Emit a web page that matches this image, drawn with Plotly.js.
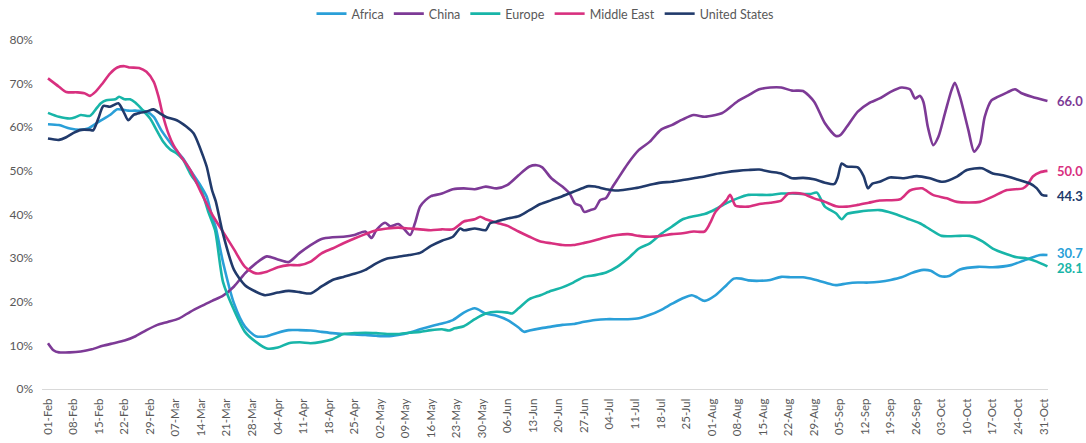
<!DOCTYPE html>
<html>
<head>
<meta charset="utf-8">
<script src="https://cdn.plot.ly/plotly-3.0.1.min.js"></script>
<style>
html,body{margin:0;padding:0;background:#ffffff;}
#chart{width:1086px;height:443px;}
</style>
</head>
<body>
<div id="chart"></div>
<script>
// x values: days since 01-Feb-2020
const seriesNames = ['Africa', 'China', 'Europe', 'Middle East', 'United States'];
const seriesColors = ['#2a9fd8', '#7d3a96', '#18b5a8', '#d8307f', '#213a6b'];
const endLabels = ['30.7', '66.0', '28.1', '50.0', '44.3'];

const africaDays = [0,3,6,9,11,14,17,19,22,24,27,29,31,33,35,37,39,42,43.5,45,46,48,51,54,57,60,63,66,69,72,75,78,81,84,87,90,93,96,99,102,105,108,111,114,117,120,123,126,129,130.5,132,135,138,141,144,147,150,153,156,159,162,165,168,171,174,176.5,178,180,183,186,188,190,192,195,198,201,204,207,210,213,216,219,222,225,228,231,234,236.5,240,242,244.5,247,250,255,259,264,268,272,274];
const africaValues = [60.7,60.5,59.7,59.4,59.7,61.3,62.8,64.1,63.8,63.8,63.6,62.4,59.4,57.0,54.8,52.9,50.2,46.4,44.1,39.5,37.0,29.0,19.6,14.3,12.1,12.1,12.9,13.5,13.5,13.4,13.1,12.8,12.6,12.5,12.4,12.2,12.1,12.4,12.9,13.7,14.4,15.0,15.8,17.5,18.5,17.3,16.8,15.8,14.1,13.1,13.4,13.9,14.3,14.7,14.9,15.4,15.8,16.0,16.0,16.0,16.2,17.0,18.1,19.5,20.8,21.5,21.0,20.2,21.5,23.8,25.3,25.3,24.9,24.8,25.0,25.7,25.6,25.6,25.1,24.4,23.8,24.2,24.4,24.4,24.6,25.0,25.6,26.5,27.3,27.1,25.9,25.9,27.4,28.0,27.9,28.4,29.6,30.7,30.7];

const chinaDays = [0,1.5,3,6,9,12,15,18,21,24,27,30,33,36,39,42,45,48,51,54,57,60,63,66,69,72,75,78,81,84,87,88.7,90,92.4,93.8,96,97.5,99.3,100.6,102,103.5,105,108,111,114,117,120,123,126,129,132,134,135.5,138,141,143,144.5,146,147,148.6,150,151.4,153,154.6,156,159,162,165,168,171,174,177,180,183,184.7,186,189,192,195,198,201,204,207,210,213,216,217.2,219,222,225,228,231,234,236.3,237.7,239,240,241.2,242.7,244.1,245.9,247.7,248.6,250,252.3,253.9,255.5,256.8,258.7,260.5,263,265.1,266.9,269.7,274];
const chinaValues = [10.5,8.9,8.4,8.4,8.6,9.1,9.9,10.5,11.1,12.1,13.5,14.7,15.4,16.2,17.7,19.0,20.2,21.4,23.5,26.5,28.8,30.4,29.7,29.1,31.2,33.0,34.4,34.8,34.9,35.3,36.1,34.6,36.4,38.1,37.3,37.8,36.8,35.3,38.0,41.8,43.3,44.2,44.8,45.8,46.0,45.8,46.4,46.0,46.8,49.0,51.0,51.3,50.8,48.3,46.4,44.8,42.5,42.0,40.6,41.0,41.4,43.3,43.8,46.1,47.9,51.7,54.8,56.7,59.4,60.5,61.8,62.8,62.4,62.8,63.2,63.9,65.9,67.3,68.7,69.1,69.1,68.4,68.3,65.9,60.9,58.0,58.2,60.1,63.6,65.5,66.6,68.1,69.1,68.7,66.6,67.2,65.8,60.1,55.9,57.8,63.2,68.5,70.2,67.0,59.4,54.4,56.3,62.4,66.2,67.0,68.0,68.7,67.8,67.0,66.0];

const europeDays = [0,3,6,7.5,9,11.5,13,14.5,16,18.5,19.5,21,22.5,24,26,28,30,31.6,33.5,35.3,37,39,42,44,45.8,48,51,54,57,60,63,66,69,72,75,78,81,84,87,90,93,96,99,102,105,108,110,111.5,114,117,120,123,126,127.2,129,132,135,138,141,144,147,150,153,156,159,162,165,168,171,174,177,180,183,186,189,192,195,198,201,204,207,209,210.8,213,216,217.6,219,222,225,228,231.6,235.5,239,241.8,245,250,252.7,256.3,259,262.9,265.6,268.4,271.1,274];
const europeValues = [63.3,62.4,62.0,62.3,62.8,62.6,64.0,65.5,66.2,66.4,67.0,66.4,66.4,65.6,63.9,62.0,59.0,56.7,54.9,54.0,52.6,49.4,45.6,40.5,36.4,24.5,18.1,13.1,10.8,9.3,9.5,10.5,10.7,10.5,10.8,11.4,12.6,12.8,12.9,12.8,12.6,12.6,12.9,13.1,13.5,13.7,13.4,13.9,14.4,16.0,17.3,17.7,17.5,17.3,18.5,20.6,21.5,22.5,23.3,24.4,25.7,26.1,26.7,28.0,29.9,32.2,33.4,35.5,37.2,38.9,39.6,40.1,41.2,42.6,43.7,44.5,44.5,44.5,44.8,44.8,44.7,44.7,45.0,41.8,40.3,38.9,40.1,40.6,40.9,41.0,40.3,39.1,38.0,36.6,35.1,35.1,35.1,33.8,32.2,30.9,30.2,29.9,29.2,28.1];

const middleEastDays = [0,3,5,8,10,11.5,13,15,17,19,21,22.5,25,27,29,30.3,31.6,33,34.4,36.2,39,42,45,48,51,54,57,60,63,66,69,72,75,78,81,84,87,90,93,96,99,102,105,108,111,114,117,118.5,120,123,126,129,132,135,138,141,144,147,150,153,156,159,162,165,168,171,174,177,180,181.5,183,186,187,188.5,190,192,195,198,201,203,207,210,213,216,219,222,225,228,233.6,236.3,239.6,242.6,246.4,249.2,255.5,259,262.9,267.3,268.5,270,272,274];
const middleEastValues = [71.2,69.3,68.1,68.0,67.8,67.2,68.1,70.1,72.3,73.7,74.0,73.7,73.6,72.7,70.4,67.0,62.4,58.6,55.9,53.6,50.2,45.0,40.0,36.0,32.0,28.0,26.5,26.9,27.9,28.4,28.4,29.2,31.1,32.2,33.4,34.5,35.5,36.4,36.8,37.0,36.8,36.6,36.4,36.6,36.6,38.4,38.9,39.5,38.9,38.1,37.4,36.1,34.9,33.8,33.4,33.0,33.0,33.5,34.1,34.8,35.3,35.5,35.1,34.9,35.1,35.5,35.7,36.1,36.1,38.0,40.6,43.3,44.5,42.0,41.8,41.8,42.4,42.7,43.2,44.8,44.7,43.7,42.9,41.9,41.8,42.2,42.7,43.2,43.5,45.5,46.0,44.5,43.7,42.9,42.9,44.1,45.6,46.0,46.8,48.7,49.7,50.0];

const usDays = [0,3,5,7,9,11.5,12.4,13.8,15.2,17,19.3,20.7,22,23.4,25.2,27.1,28.9,30.7,32.5,35.3,38,39.9,41.2,42.6,43.5,45,46,48,51,54,57,59.5,63,66,69,72,75,78,81,84,87,90,93,96,99,102,105,108,111,113,114,117,120,121.2,123,126,129,132,135,138,141,144,147,148.2,150,153,156,159,162,165,168,171,174,177,180,183,186,189,192,195,198,201,204,207,210,213,215.6,216.5,217.6,219,222,223.6,224.8,226,228,230.8,234.4,238.2,241.8,245.3,249.2,251.9,256,259,261.8,265.5,269.2,271.1,272.5,274];
const usValues = [57.4,57.1,57.7,58.7,59.4,59.4,59.3,62.0,64.9,64.7,65.5,63.6,61.6,62.8,63.3,63.6,64.1,63.2,62.3,61.6,60.1,58.6,56.3,53.2,51.0,45.5,43.0,35.5,27.3,23.8,22.3,21.5,22.1,22.5,22.2,21.9,23.5,25.0,25.7,26.4,27.3,28.8,29.9,30.3,30.7,31.2,32.8,34.0,34.9,36.8,36.4,36.8,36.4,38.0,38.4,39.1,39.6,41.0,42.4,43.3,44.2,45.2,46.2,46.5,46.4,45.8,45.5,45.8,46.2,46.8,47.3,47.5,47.9,48.3,48.7,49.3,49.7,50.0,50.2,50.3,49.8,49.4,48.3,48.4,48.1,47.3,47.0,48.5,51.7,51.0,50.8,48.8,46.0,47.1,47.5,48.5,48.3,48.8,48.3,47.5,48.7,50.2,50.6,49.4,49.0,48.1,47.1,46.0,44.5,44.3];

const allDays = [africaDays, chinaDays, europeDays, middleEastDays, usDays];
const allValues = [africaValues, chinaValues, europeValues, middleEastValues, usValues];

const DAY = 86400000;
const BASE = Date.UTC(2020, 1, 1);
function toDate(d) {
  return new Date(BASE + Math.round(d * DAY)).toISOString().slice(0, 19).replace('T', ' ');
}

const FONT = 'Lato, "Open Sans", "DejaVu Sans", sans-serif';
const GREY = '#595959';

const traces = seriesNames.map((name, i) => ({
  type: 'scatter',
  mode: 'lines',
  name: name,
  x: allDays[i].map(toDate),
  y: allValues[i],
  line: {color: seriesColors[i], width: 2.6, shape: 'spline', smoothing: 0.7},
  hoverinfo: 'x+y+name'
}));

// small vertical nudges keep the two close end labels (30.7 / 28.1) apart
const labelNudge = [2, 0, -2, 0, 0];

const annotations = seriesNames.map((name, i) => {
  const n = allDays[i].length;
  return {
    x: toDate(allDays[i][n - 1]),
    y: allValues[i][n - 1],
    xref: 'x', yref: 'y',
    text: '<b>' + endLabels[i] + '</b>',
    showarrow: false,
    xanchor: 'left',
    yanchor: 'middle',
    xshift: 8,
    yshift: labelNudge[i],
    font: {family: FONT, size: 13, color: seriesColors[i]}
  };
});

const layout = {
  width: 1086,
  height: 443,
  margin: {l: 42, r: 38, t: 40, b: 54, autoexpand: false},
  paper_bgcolor: '#ffffff',
  plot_bgcolor: '#ffffff',
  font: {family: FONT, size: 12, color: GREY},
  showlegend: true,
  legend: {
    orientation: 'h',
    x: 0.5, xanchor: 'center',
    yref: 'container',
    y: 1 - 14 / 443, yanchor: 'middle',
    font: {family: FONT, size: 12.5, color: GREY},
    itemwidth: 30,
    traceorder: 'normal'
  },
  xaxis: {
    type: 'date',
    range: [toDate(-1.64), toDate(274.15)],
    tick0: '2020-02-01',
    dtick: 7 * DAY,
    tickformat: '%d-%b',
    tickangle: -90,
    ticks: '',
    ticklabelstandoff: 4,
    tickfont: {family: FONT, size: 11.5, color: GREY},
    showgrid: false,
    zeroline: false,
    showline: true,
    linecolor: '#d9d9d9',
    linewidth: 1,
    fixedrange: true,
    automargin: false
  },
  yaxis: {
    range: [0, 80],
    tick0: 0,
    dtick: 10,
    ticksuffix: '%',
    ticks: '',
    ticklabelstandoff: 8,
    tickfont: {family: FONT, size: 12, color: GREY},
    showgrid: false,
    zeroline: false,
    showline: false,
    fixedrange: true,
    automargin: false
  },
  annotations: annotations
};

Plotly.newPlot('chart', traces, layout, {displayModeBar: false, staticPlot: true});
</script>
</body>
</html>
